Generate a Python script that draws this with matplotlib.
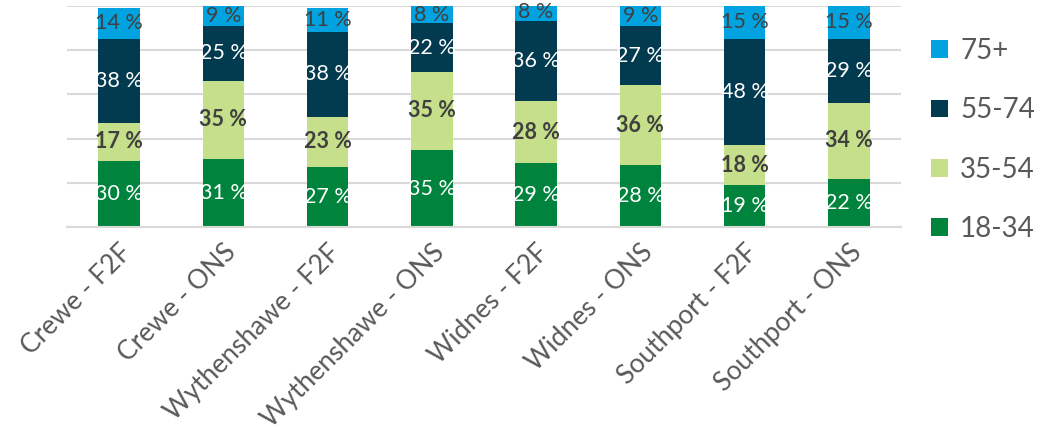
import matplotlib
matplotlib.use("Agg")
import matplotlib.pyplot as plt
import numpy as np

plt.rcParams['font.family'] = ['Lato', 'DejaVu Sans']

categories = ["Crewe - F2F", "Crewe - ONS", "Wythenshawe - F2F", "Wythenshawe - ONS",
              "Widnes - F2F", "Widnes - ONS", "Southport - F2F", "Southport - ONS"]
series_names = ["18-34", "35-54", "55-74", "75+"]
v_18_34 = [30, 31, 27, 35, 29, 28, 19, 22]
v_35_54 = [17, 35, 23, 35, 28, 36, 18, 34]
v_55_74 = [38, 25, 38, 22, 36, 27, 48, 29]
v_75p = [14, 9, 11, 8, 8, 9, 15, 15]
series_values = [v_18_34, v_35_54, v_55_74, v_75p]

colors = ["#00843D", "#C5DF8A", "#023A4F", "#00A3E0"]
label_colors = ["white", "#404040", "white", "#404040"]
label_weights = ["normal", "bold", "normal", "normal"]

fig = plt.figure(figsize=(10.58, 4.30), dpi=100)
ax = fig.add_axes([67/1058, 1 - 227.3/430, (901-67)/1058, (227.3-5.7)/430])

x = np.arange(len(categories))
bottom = np.zeros(len(categories))
handles = []
for name, vals, c, lc, lw in zip(series_names, series_values, colors, label_colors, label_weights):
    vals = np.array(vals, dtype=float)
    bars = ax.bar(x, vals, width=0.4, bottom=bottom, color=c, label=name, zorder=2)
    handles.append(bars)
    for xi, b, v in zip(x, bottom, vals):
        ax.text(xi, b + v / 2, f"{int(v)} %", ha="center", va="center",
                color=lc, fontsize=15.5, fontweight=lw, zorder=3)
    bottom += vals

ax.set_xlim(-0.5, len(categories) - 0.5)
ax.set_ylim(0, 100)
ax.set_yticks(np.arange(0, 101, 20))
ax.yaxis.grid(True, color="#D9D9D9", linewidth=1.5, zorder=0)
ax.set_axisbelow(True)
ax.tick_params(axis="y", left=False, labelleft=False)
ax.tick_params(axis="x", length=0, pad=9)
for s in ["top", "right", "left"]:
    ax.spines[s].set_visible(False)
ax.spines["bottom"].set_color("#D9D9D9")
ax.spines["bottom"].set_linewidth(1.5)
ax.set_xticks(x)
ax.set_xticklabels(categories, rotation=45, ha="right", rotation_mode="anchor",
                   fontsize=19, color="#595959")

leg = fig.legend(handles[::-1], series_names[::-1], loc="upper left",
                 bbox_to_anchor=(906/1058, 1 - 13/430), frameon=False,
                 fontsize=20, labelcolor="#595959", handlelength=0.6,
                 handleheight=0.6, handletextpad=0.45, labelspacing=1.2)

fig.savefig("out.png", dpi=100)
